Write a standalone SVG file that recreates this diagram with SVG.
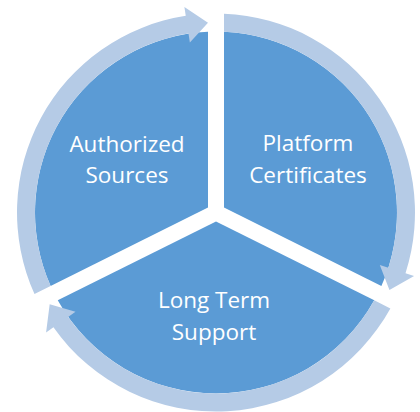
<svg xmlns="http://www.w3.org/2000/svg" width="420" height="412" viewBox="0 0 420 412">
<style>
.seg{fill:#5B9BD5;}
.arr{fill:#B5CBE6;}
.lbl{fill:#FFFFFF;font-family:"Open Sans","Noto Sans","Liberation Sans",sans-serif;font-size:22.5px;text-anchor:middle;}
</style>
<rect width="420" height="412" fill="#FFFFFF"/>
<g id="node-platform-certificates">
<path class="seg" d="M224,207.55 L224,31.68 A181,181 0 0,1 381.39,286.02 Z"/>
<text class="lbl" x="308" y="151">Platform</text>
<text class="lbl" x="308" y="182.5">Certificates</text>
</g>
<g id="node-long-term-support">
<path class="seg" d="M216,221.44 L374.25,300.34 A181,181 0 0,1 57.75,300.34 Z"/>
<text class="lbl" x="214" y="308">Long Term</text>
<text class="lbl" x="214" y="340">Support</text>
</g>
<g id="node-authorized-sources">
<path class="seg" d="M208,207.55 L50.61,286.02 A181,181 0 0,1 208,31.68 Z"/>
<text class="lbl" x="127" y="151.7">Authorized</text>
<text class="lbl" x="127" y="183.3">Sources</text>
</g>
<g id="connectors">
<path class="arr" d="M50.61,286.02 A181,181 0 0,1 188.49,33.60 L189.86,42.50 L208,22.67 L184.39,6.91 L185.75,15.81 A199,199 0 0,0 34.49,294.06 Z"/>
<path class="arr" d="M224,31.68 A181,181 0 0,1 388.37,267.71 L379.80,264.96 L389.45,290.04 L414.08,275.94 L405.51,273.20 A199,199 0 0,0 224,13.66 Z"/>
<path class="arr" d="M374.25,300.34 A181,181 0 0,1 68.14,316.94 L75.49,311.74 L49.69,304.36 L46.08,332.52 L53.44,327.32 A199,199 0 0,0 390.37,308.38 Z"/>
</g>
</svg>
